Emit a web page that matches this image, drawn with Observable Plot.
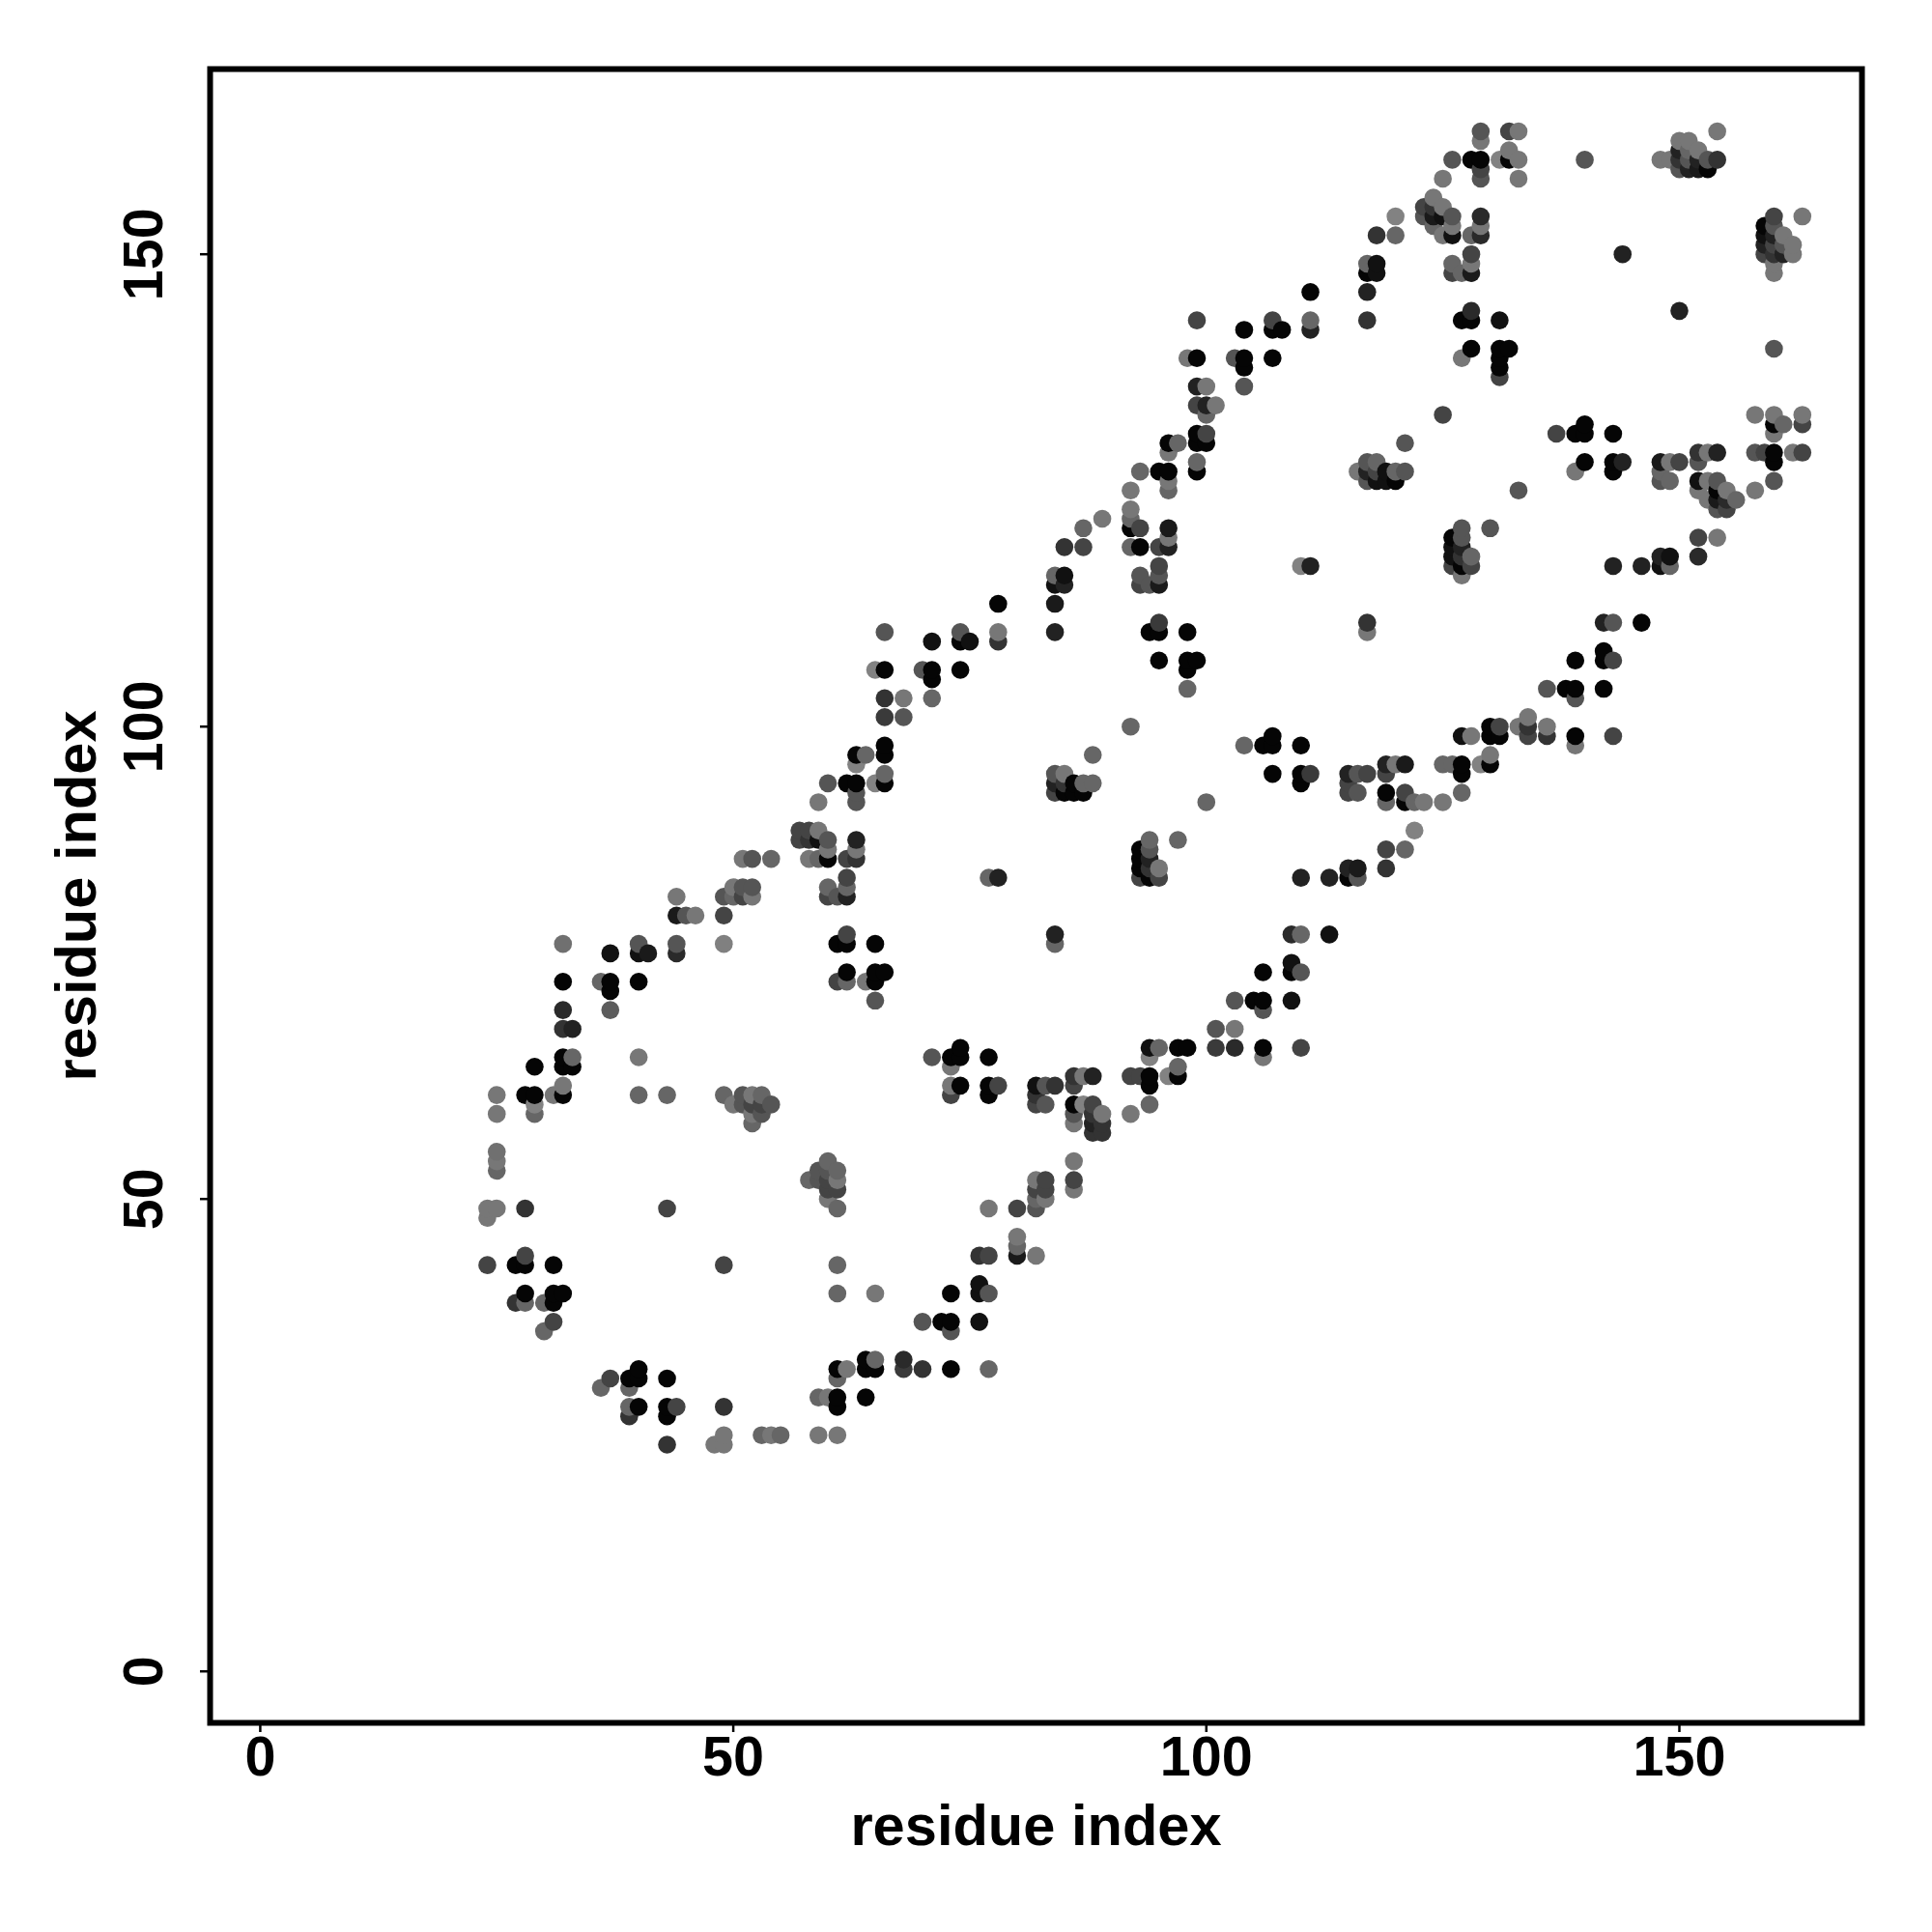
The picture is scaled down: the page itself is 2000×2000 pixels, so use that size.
<!DOCTYPE html>
<html>
<head>
<meta charset="utf-8">
<script src="https://cdn.jsdelivr.net/npm/d3@7"></script>
<script src="https://cdn.jsdelivr.net/npm/@observablehq/plot@0.6"></script>
<style>
html,body{margin:0;padding:0;background:#fff}
svg{display:block}
</style>
</head>
<body>
<div id="chart"></div>
<script>
// Each contact: [residue i, residue j, gray level]
const residues24to49 = [
[24,43,68],[24,48,119],[24,49,119],
[25,49,119],[25,53,102],[25,54,119],[25,55,112],[25,59,119],[25,61,119],
[27,39,51],[27,43,5],
[28,39,102],[28,40,5],[28,43,5],[28,44,68],[28,49,51],[28,61,5],
[29,59,102],[29,60,130],[29,61,5],[29,64,5],
[30,36,102],[30,39,102],
[31,37,68],[31,39,5],[31,40,5],[31,43,5],[31,61,119],
[32,40,5],[32,61,5],[32,62,119],[32,64,5],[32,65,5],[32,68,51],[32,70,42],[32,73,5],[32,77,112],
[33,64,5],[33,65,102],[33,68,34],
[36,30,102],[36,73,102],
[37,31,68],[37,70,92],[37,72,5],[37,73,5],[37,76,17],
[39,27,51],[39,28,102],[39,30,102],[39,31,5],
[40,28,5],[40,31,5],[40,32,5],[40,61,102],[40,65,119],[40,73,5],[40,76,17],[40,77,85],
[41,76,26],
[43,24,51],[43,27,5],[43,28,5],[43,31,5],[43,49,68],[43,61,102],
[44,28,68],[44,76,42],[44,77,85],[44,80,26],[44,82,119],
[45,80,85],[46,80,119],[48,24,119],
[49,24,119],[49,25,119],[49,28,51],[49,43,68],[49,61,102],[49,77,128],[49,80,68],[49,82,85]
];
const residues50to69 = [
[50,60,119],[50,82,102],[50,83,119],
[51,60,85],[51,61,85],[51,82,68],[51,83,85],[51,86,119],
[52,58,102],[52,59,119],[52,60,68],[52,61,119],[52,82,119],[52,83,85],[52,86,85],
[53,25,102],[53,59,85],[53,60,68],[53,61,102],
[54,25,119],[54,60,85],[54,86,102],
[55,25,102],
[57,88,68],[57,89,68],
[58,52,102],[58,86,119],[58,88,51],[58,89,68],
[59,25,119],[59,29,102],[59,52,85],[59,53,85],[59,86,102],[59,88,17],[59,89,119],[59,92,119],
[60,29,119],[60,50,119],[60,51,68],[60,52,68],[60,53,85],[60,54,102],[60,82,68],[60,83,102],[60,86,5],[60,87,119],[60,88,85],[60,94,85],
[61,25,119],[61,28,5],[61,29,5],[61,31,102],[61,32,5],[61,40,102],[61,43,102],[61,49,102],[61,51,68],[61,52,119],[61,53,102],[61,73,68],[61,77,5],[61,82,85],
[62,32,119],[62,73,102],[62,74,5],[62,77,5],[62,78,68],[62,82,34],[62,83,102],[62,84,68],[62,86,68],[62,94,5],
[63,86,51],[63,87,119],[63,88,34],[63,92,85],[63,93,85],[63,94,5],[63,96,130],[63,97,5],
[64,29,5],[64,32,5],[64,33,5],[64,73,119],[64,97,102],
[65,32,5],[65,33,102],[65,40,119],[65,71,85],[65,73,5],[65,74,5],[65,77,5],[65,94,130],[65,106,130],
[66,74,5],[66,94,5],[66,95,102],[66,97,5],[66,98,5],[66,101,58],[66,103,51],[66,106,5],[66,110,85],
[68,32,58],[68,33,42],[68,101,85],[68,103,119]
];
const residues70to99 = [
[70,32,51],[70,37,85],[70,106,85],
[71,65,85],[71,103,102],[71,105,5],[71,106,5],[71,109,17],
[72,37,5],
[73,32,5],[73,36,85],[73,37,5],[73,40,5],[73,61,68],[73,62,119],[73,64,119],[73,65,5],
[74,62,5],[74,65,5],[74,66,5],[74,106,5],[74,109,5],[74,110,85],
[75,109,17],
[76,37,17],[76,40,17],[76,41,17],[76,44,51],
[77,32,102],[77,40,85],[77,44,68],[77,49,119],[77,61,5],[77,62,5],[77,65,5],[77,84,102],
[78,62,68],[78,84,34],[78,109,51],[78,110,119],[78,113,5],
[80,44,26],[80,45,102],[80,46,119],[80,49,68],
[82,44,119],[82,49,85],[82,50,102],[82,51,68],[82,52,119],[82,60,68],[82,61,51],[82,62,17],
[83,50,119],[83,51,68],[83,52,68],[83,60,85],[83,62,85],
[84,62,51],[84,77,102],[84,78,34],[84,93,68],[84,94,34],[84,95,85],[84,110,34],[84,113,26],[84,115,17],[84,116,102],
[85,93,5],[85,94,51],[85,95,119],[85,115,34],[85,116,17],[85,119,51],
[86,51,119],[86,52,68],[86,54,119],[86,58,119],[86,59,85],[86,60,5],[86,62,68],[86,63,51],[86,93,5],[86,94,5],
[87,60,130],[87,63,119],[87,93,5],[87,94,102],[87,119,68],[87,121,102],
[88,57,51],[88,58,34],[88,59,51],[88,60,68],[88,63,34],[88,94,102],[88,97,102],
[89,57,51],[89,58,51],[89,59,119],[89,122,119],
[92,59,119],[92,63,68],[92,100,102],[92,119,102],[92,121,5],[92,122,102],[92,123,119],[92,125,119],
[93,63,68],[93,84,68],[93,85,5],[93,86,5],[93,87,5],[93,115,68],[93,116,85],[93,119,5],[93,121,68],[93,127,102],
[94,60,102],[94,62,5],[94,63,5],[94,65,130],[94,66,17],[94,84,5],[94,85,51],[94,86,34],[94,87,85],[94,88,102],[94,110,5],[94,115,85],
[95,66,102],[95,84,68],[95,85,119],[95,107,5],[95,110,5],[95,111,58],[95,115,26],[95,116,85],[95,117,68],[95,119,68],[95,127,5],
[96,63,130],[96,119,34],[96,120,119],[96,121,26],[96,125,102],[96,126,119],[96,127,5],[96,129,119],[96,130,5],
[97,63,5],[97,64,102],[97,66,5],[97,88,102],[97,130,102],
[98,66,5],[98,104,102],[98,106,5],[98,107,5],[98,110,5],[98,139,119],
[99,107,5],[99,127,5],[99,128,102],[99,130,5],[99,131,5],[99,134,68],[99,136,34],[99,139,5],[99,143,68]
];
const residues100to129 = [
[100,92,102],[100,130,5],[100,131,68],[100,133,102],[100,134,34],[100,136,119],
[101,66,58],[101,68,85],[101,134,119],
[103,66,42],[103,68,119],[103,71,85],[103,139,85],
[104,98,102],[104,136,85],[104,138,5],[104,139,5],[104,142,5],
[105,71,5],
[106,65,119],[106,66,5],[106,70,85],[106,71,5],[106,74,5],[106,98,5],
[107,95,5],[107,98,5],[107,99,5],[107,139,5],[107,142,5],[107,143,68],
[108,142,5],
[109,71,17],[109,74,5],[109,75,17],[109,78,42],
[110,66,68],[110,74,85],[110,78,102],[110,84,34],[110,94,5],[110,95,5],[110,98,5],[110,117,130],
[111,95,58],[111,117,34],[111,142,34],[111,143,102],[111,146,5],
[113,78,17],[113,84,34],
[115,84,5],[115,85,34],[115,93,68],[115,94,68],[115,95,34],
[116,84,85],[116,85,26],[116,93,85],[116,95,85],[116,127,119],
[117,95,68],[117,110,119],[117,111,51],[117,126,85],[117,127,34],[117,128,85],[117,143,51],[117,146,34],[117,148,5],[117,149,102],
[118,126,17],[118,127,68],[118,128,102],[118,148,17],[118,149,17],[118,152,51],
[119,85,51],[119,87,68],[119,92,102],[119,93,5],[119,95,68],[119,96,34],[119,126,17],[119,127,17],
[120,96,119],[120,126,5],[120,127,102],[120,152,102],[120,154,130],
[121,87,102],[121,92,5],[121,93,68],[121,96,26],[121,127,85],[121,130,85],
[122,89,130],[122,92,102],
[123,92,119],[123,154,85],[123,155,68],
[124,153,102],[124,154,26],[124,155,51],[124,156,119],
[125,92,119],[125,96,102],[125,133,68],[125,152,119],[125,154,17],[125,155,119],[125,158,119],
[126,96,102],[126,117,68],[126,118,17],[126,119,17],[126,120,5],[126,148,68],[126,149,102],[126,152,17],[126,153,119],[126,154,85],[126,160,85],
[127,93,102],[127,95,5],[127,96,5],[127,99,17],[127,116,119],[127,117,5],[127,118,51],[127,119,34],[127,120,85],[127,121,85],[127,139,119],[127,143,5],[127,148,102],
[128,99,119],[128,117,68],[128,118,102],[128,140,5],[128,143,5],[128,144,42],[128,148,26],[128,149,119],[128,150,68],[128,152,102],[128,160,5],
[129,96,130],[129,152,42],[129,153,119],[129,154,42],[129,158,85],[129,159,68],[129,160,5],[129,162,119],[129,163,85]
];
const residues130to163 = [
[130,96,5],[130,97,119],[130,99,5],[130,100,5],[130,121,85],
[131,99,5],[131,100,68],[131,137,68],[131,138,5],[131,139,5],[131,140,5],[131,143,17],[131,160,130],
[132,140,5],[132,160,5],[132,161,119],[132,163,68],
[133,100,119],[133,125,85],[133,158,119],[133,160,119],[133,163,119],
[134,99,68],[134,100,51],[134,101,119],
[136,99,51],[136,100,119],[136,104,85],
[137,131,68],[138,104,5],
[139,98,119],[139,99,5],[139,103,85],[139,104,5],[139,107,5],[139,127,119],[139,131,5],
[140,128,5],[140,131,5],[140,132,5],[140,160,85],
[142,104,5],[142,107,5],[142,108,5],[142,111,34],
[143,99,68],[143,107,68],[143,111,85],[143,117,34],[143,127,5],[143,128,5],[143,131,5],
[144,128,34],[144,150,34],
[146,111,5],[146,117,34],
[148,117,17],[148,118,34],[148,126,85],[148,127,102],[148,128,26],[148,160,119],
[149,117,102],[149,118,17],[149,126,102],[149,128,119],[149,160,119],
[150,128,68],[150,144,34],[150,159,85],[150,160,51],[150,161,34],[150,162,119],
[151,159,34],[151,160,85],[151,161,102],[151,162,119],
[152,118,42],[152,120,68],[152,125,119],[152,126,17],[152,128,85],[152,129,51],[152,159,26],[152,160,34],[152,161,119],
[153,124,119],[153,126,119],[153,129,119],[153,159,5],[153,160,85],
[154,120,119],[154,123,85],[154,124,26],[154,125,5],[154,126,85],[154,129,34],[154,160,51],[154,163,119],
[155,123,68],[155,124,42],[155,125,119],
[156,124,102],
[158,125,119],[158,129,85],[158,133,119],
[159,129,68],[159,150,68],[159,151,34],[159,152,17],[159,153,5],
[160,126,85],[160,128,5],[160,129,5],[160,131,119],[160,132,5],[160,133,119],[160,140,85],[160,148,119],[160,149,119],[160,150,51],[160,151,68],[160,152,34],[160,153,85],[160,154,68],
[161,132,102],[161,150,34],[161,151,85],[161,152,119],
[162,129,119],[162,150,119],[162,151,119],
[163,129,68],[163,132,68],[163,133,119],[163,154,119]
];
const tickValues = [0, 50, 100, 150];
const axisTitle = "residue index";

const contacts = [...residues24to49, ...residues50to69, ...residues70to99, ...residues100to129, ...residues130to163]
  .sort((a, b) => a[0] - b[0] || a[1] - b[1]);

const font = {fontFamily: "'Liberation Sans', Arial, sans-serif", fontWeight: "bold"};

const plot = Plot.plot({
  width: 2000,
  height: 2000,
  marginLeft: 217,
  marginRight: 73,
  marginTop: 71,
  marginBottom: 217,
  style: {background: "#fff", color: "#000", overflow: "visible"},
  x: {domain: [-5.3, 169.3]},
  y: {domain: [-5.45, 169.6]},
  color: {type: "linear", domain: [0, 255], range: ["#000", "#fff"]},
  marks: [
    Plot.dot(contacts, {x: d => d[0], y: d => d[1], fill: d => d[2], r: 9.3, stroke: "none"}),
    Plot.frame({stroke: "#000", strokeWidth: 6}),
    Plot.axisX({ticks: tickValues, tickSize: 10, tickPadding: 4, strokeWidth: 2.5, fontSize: 57.5, label: null, ...font}),
    Plot.axisY({ticks: tickValues, tickSize: 10, tickPadding: 40, strokeWidth: 2.5, fontSize: 57.5, label: null, tickRotate: -90, textAnchor: "middle", ...font}),
    Plot.text([axisTitle], {frameAnchor: "bottom", dy: 126, lineAnchor: "bottom", fontSize: 59.6, ...font}),
    Plot.text([axisTitle], {frameAnchor: "left", textAnchor: "middle", dx: -119, rotate: -90, lineAnchor: "bottom", fontSize: 59.6, ...font})
  ]
});
document.getElementById("chart").append(plot);
</script>
</body>
</html>
